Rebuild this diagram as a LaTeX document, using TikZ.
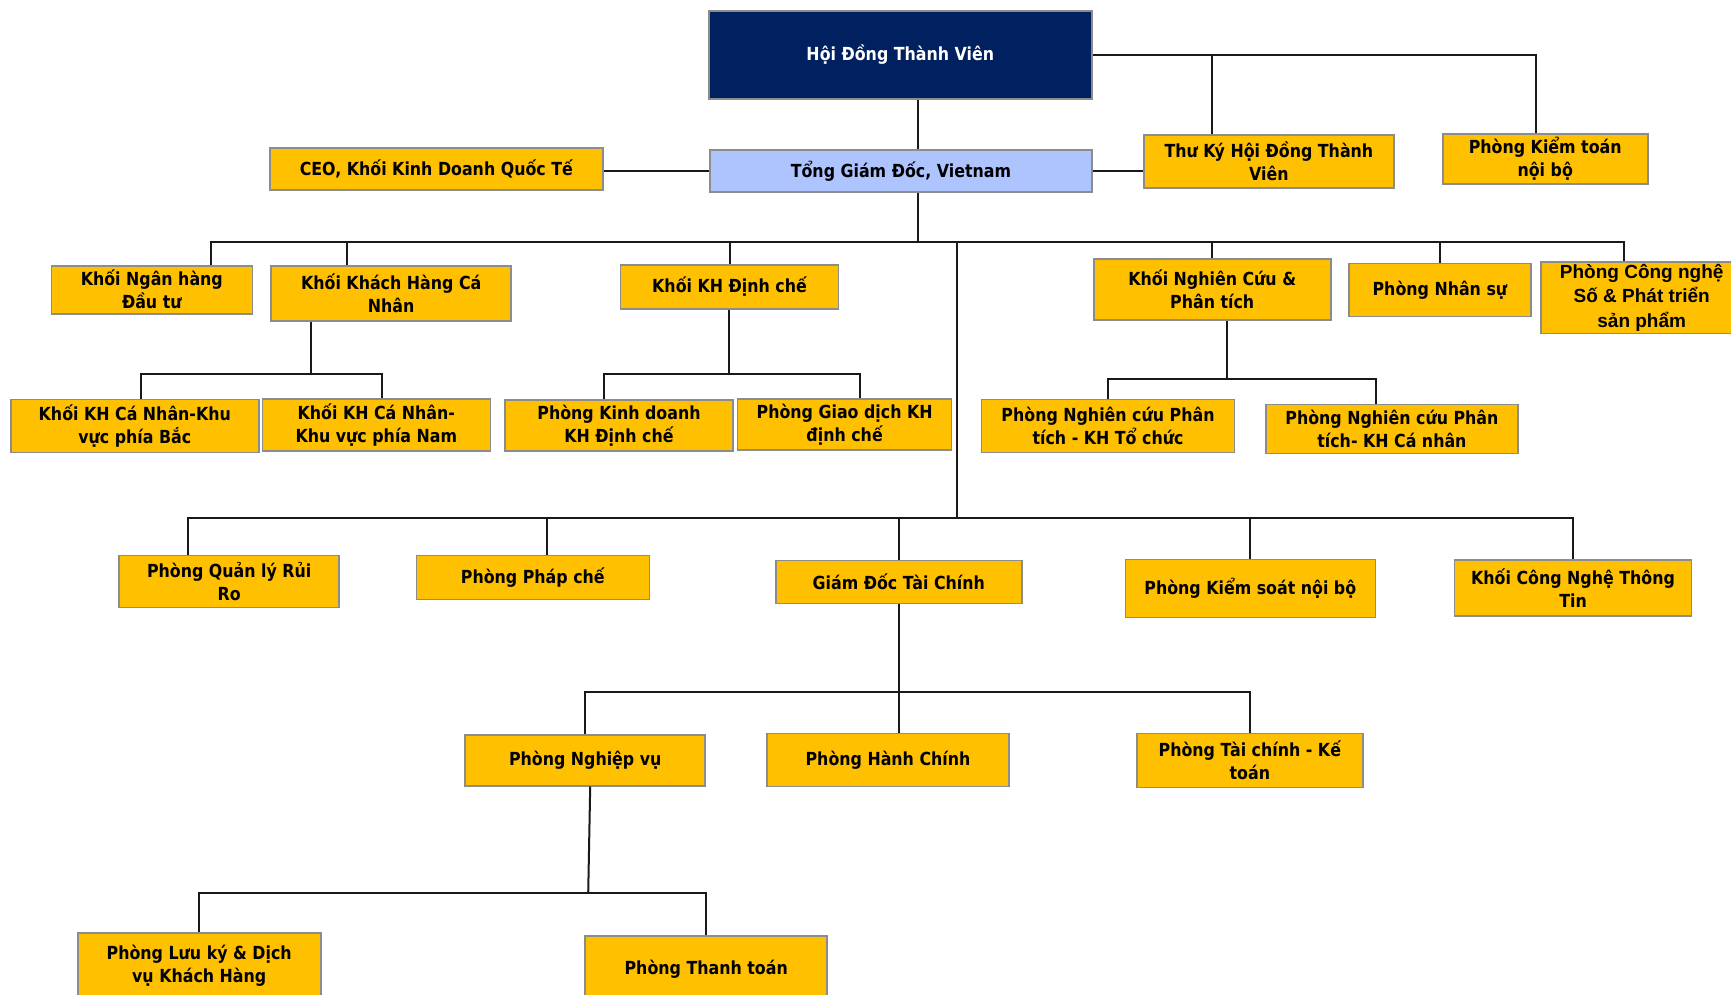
\documentclass[tikz,border=0pt]{standalone}
\usepackage{fontspec}
\setmainfont{DejaVu Sans}[FakeStretch=0.88]
\newfontfamily\digitalfont{Liberation Sans}
\definecolor{boxgold}{RGB}{255,192,0}
\definecolor{boardnavy}{RGB}{0,32,96}
\definecolor{ceoblue}{RGB}{174,196,255}
\definecolor{boxrim}{RGB}{140,140,140}
\newcommand\orgfont{\fontsize{18}{23}\selectfont\bfseries}
\tikzset{
  org box/.style={draw=boxrim,line width=1.6pt,fill=boxgold,align=center,inner sep=2pt,font=\orgfont},
  board box/.style={org box,fill=boardnavy,text=white},
  ceo box/.style={org box,fill=ceoblue},
  link/.style={line width=2pt,black!90},
}
\begin{document}
\begin{tikzpicture}[x=1pt,y=-1pt]
  \useasboundingbox (0,0) rectangle (1731,995);
  \clip (0,0) rectangle (1731,995);
  % top level
  \node[board box,minimum width=383pt,minimum height=88pt] (hdtv) at (900.3,54.9) {Hội Đồng Thành Viên};
  \node[ceo box,minimum width=382pt,minimum height=42pt] (tgd) at (900.9,171.3) {Tổng Giám Đốc, Vietnam};
  \node[org box,minimum width=333pt,minimum height=42pt] (ceo) at (436.3,169.2) {CEO, Khối Kinh Doanh Quốc Tế};
  \node[org box,minimum width=250pt,minimum height=53pt] (thuky) at (1268.9,161.5) {Thư Ký Hội Đồng Thành\\Viên};
  \node[org box,minimum width=205pt,minimum height=50pt] (kiemtoan) at (1545.2,158.9) {Phòng Kiểm toán\\nội bộ};
  % first row
  \node[org box,minimum width=201pt,minimum height=48pt] (nhdt) at (151.8,289.7) {Khối Ngân hàng\\Đầu tư};
  \node[org box,minimum width=240pt,minimum height=55pt] (khcn) at (391.2,293.2) {Khối Khách Hàng Cá\\Nhân};
  \node[org box,minimum width=218pt,minimum height=44pt] (dinhche) at (729.5,286.9) {Khối KH Định chế};
  \node[org box,minimum width=237pt,minimum height=61pt] (nghiencuu) at (1212.2,289.5) {Khối Nghiên Cứu \&\\Phân tích};
  \node[org box,minimum width=182pt,minimum height=53pt] (nhansu) at (1439.9,290) {Phòng Nhân sự};
  \node[org box,minimum width=202pt,minimum height=69pt,font=\digitalfont\fontsize{19}{24.5}\selectfont\bfseries] (congnghe) at (1641.7,297.8) {Phòng Công nghệ\\Số \& Phát triển\\sản phẩm};
  % second row
  \node[org box,minimum width=248pt,minimum height=53pt] (cnbac) at (134.8,425.8) {Khối KH Cá Nhân-Khu\\vực phía Bắc};
  \node[org box,minimum width=228pt,minimum height=52pt] (cnnam) at (376.3,425.2) {Khối KH Cá Nhân-\\Khu vực phía Nam};
  \node[org box,minimum width=228pt,minimum height=51pt] (kddc) at (619,425.7) {Phòng Kinh doanh\\KH Định chế};
  \node[org box,minimum width=214pt,minimum height=51pt] (gddc) at (844.6,424.4) {Phòng Giao dịch KH\\định chế};
  \node[org box,minimum width=253pt,minimum height=53pt] (nctc) at (1108,425.8) {Phòng Nghiên cứu Phân\\tích - KH Tổ chức};
  \node[org box,minimum width=252pt,minimum height=49pt] (nccn) at (1391.9,429) {Phòng Nghiên cứu Phân\\tích- KH Cá nhân};
  % third row
  \node[org box,minimum width=220pt,minimum height=52pt] (ruiro) at (229.2,581.5) {Phòng Quản lý Rủi\\Ro};
  \node[org box,minimum width=233pt,minimum height=44pt] (phapche) at (532.8,577.5) {Phòng Pháp chế};
  \node[org box,minimum width=246pt,minimum height=43pt] (gdtc) at (898.8,582) {Giám Đốc Tài Chính};
  \node[org box,minimum width=250pt,minimum height=58pt] (kiemsoat) at (1250.3,588.5) {Phòng Kiểm soát nội bộ};
  \node[org box,minimum width=237pt,minimum height=56pt] (cntt) at (1573,587.9) {Khối Công Nghệ Thông\\Tin};
  % finance
  \node[org box,minimum width=240pt,minimum height=51pt] (nghiepvu) at (585.2,760.2) {Phòng Nghiệp vụ};
  \node[org box,minimum width=242pt,minimum height=53pt] (hanhchinh) at (888,760) {Phòng Hành Chính};
  \node[org box,minimum width=226pt,minimum height=54pt] (taichinh) at (1249.8,760.5) {Phòng Tài chính - Kế\\toán};
  \node[org box,minimum width=243pt,minimum height=66pt] (luuky) at (199.2,966) {Phòng Lưu ký \& Dịch\\vụ Khách Hàng};
  \node[org box,minimum width=242pt,minimum height=67pt] (thanhtoan) at (706.2,969.3) {Phòng Thanh toán};

  \draw[link] (hdtv.south -| 918,0) -- (tgd.north -| 918,0);
  \draw[link] (hdtv.east) -| (kiemtoan.north -| 1535.5,0);
  \draw[link] (thuky.north -| 1212.2,0) -- (hdtv.east -| 1212.2,0);
  \draw[link] (tgd.west) -- (tgd.west -| ceo.east);
  \draw[link] (tgd.east) -- (tgd.east -| thuky.west);

  \coordinate (top bus) at (918,241.7);
  \draw[link] (tgd.south -| top bus) -- (top bus);
  \draw[link] (nhdt.north -| 211.4,0) |- (top bus);
  \draw[link] (khcn.north -| 346.8,0) |- (top bus);
  \draw[link] (dinhche.north) |- (top bus);
  \draw[link] (nghiencuu.north) |- (top bus);
  \draw[link] (nhansu.north) |- (top bus);
  \draw[link] (congnghe.north -| 1624.4,0) |- (top bus);

  \coordinate (khcn bus) at (310.8,374.3);
  \draw[link] (khcn.south -| khcn bus) -- (khcn bus);
  \draw[link] (cnbac.north -| 141,0) |- (khcn bus);
  \draw[link] (cnnam.north -| 382.4,0) |- (khcn bus);

  \coordinate (dc bus) at (729.2,373.7);
  \draw[link] (dinhche.south -| dc bus) -- (dc bus);
  \draw[link] (kddc.north -| 604.3,0) |- (dc bus);
  \draw[link] (gddc.north -| 859.6,0) |- (dc bus);

  \coordinate (nc bus) at (1226.6,379);
  \draw[link] (nghiencuu.south -| nc bus) -- (nc bus);
  \draw[link] (nctc.north -| 1107.8,0) |- (nc bus);
  \draw[link] (nccn.north -| 1375.5,0) |- (nc bus);

  \coordinate (low bus) at (956.7,518.3);
  \draw[link] (top bus -| low bus) -- (low bus);
  \draw[link] (ruiro.north -| 188,0) |- (low bus);
  \draw[link] (phapche.north -| 546.6,0) |- (low bus);
  \draw[link] (gdtc.north) |- (low bus);
  \draw[link] (kiemsoat.north) |- (low bus);
  \draw[link] (cntt.north) |- (low bus);

  \coordinate (tc bus) at (898.9,691.7);
  \draw[link] (gdtc.south) -- (hanhchinh.north -| gdtc.south);
  \draw[link] (nghiepvu.north) |- (tc bus);
  \draw[link] (taichinh.north) |- (tc bus);

  \coordinate (nv bus) at (588.2,893.3);
  \draw[link] ([xshift=5pt]nghiepvu.south) -- (nv bus);
  \draw[link] (luuky.north) |- (nv bus);
  \draw[link] (thanhtoan.north) |- (nv bus);
\end{tikzpicture}
\end{document}
